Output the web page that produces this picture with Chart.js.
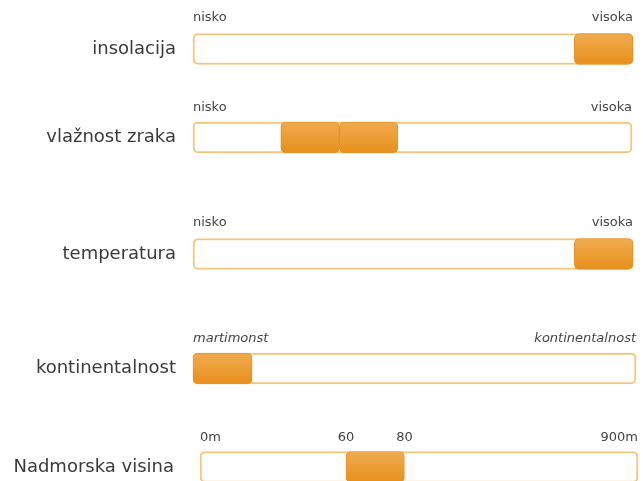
<!DOCTYPE html>
<html>
<head>
<meta charset="utf-8">
<script src="https://cdn.jsdelivr.net/npm/chart.js@4"></script>
<style>
  html, body { margin: 0; padding: 0; background: #ffffff; overflow: hidden; }
  body { width: 643px; height: 481px; position: relative; }
  canvas { position: absolute; left: 0; }
</style>
</head>
<body>
<canvas id="c0" width="643" height="62" style="top:9px"></canvas>
<canvas id="c1" width="643" height="59" style="top:99px"></canvas>
<canvas id="c2" width="643" height="62" style="top:214px"></canvas>
<canvas id="c3" width="643" height="59" style="top:330px"></canvas>
<canvas id="c4" width="643" height="58" style="top:429px"></canvas>
<script>
// ---- data ----
const rowNames = ['insolacija', 'vlažnost zraka', 'temperatura', 'kontinentalnost', 'Nadmorska visina'];
const scaleMin = 0;
const scaleMax = 15;
// highlighted segments per row: [start, end] on the 0..15 track
const segInsolacija = [[13, 15]];
const segVlaznost = [[3, 5], [5, 7]];
const segTemperatura = [[13, 15]];
const segKontinentalnost = [[0, 2]];
const segVisina = [[5, 7]];
const segments = [segInsolacija, segVlaznost, segTemperatura, segKontinentalnost, segVisina];
// tick labels per row (value positions on the track + text)
const tickValues = [[0, 15], [0, 15], [0, 15], [0, 15], [0, 5, 7, 15]];
const tickTexts = [
  ['nisko', 'visoka'],
  ['nisko', 'visoka'],
  ['nisko', 'visoka'],
  ['martimonst', 'kontinentalnost'],
  ['0m', '60', '80', '900m']
];

// ---- layout / style (not data) ----
const trackLeft = [193, 193, 193, 193, 200];
const trackRight = [633, 632, 633, 636, 638];
const labelPad = [17, 17, 17, 17, 26];
const tickItalic = [false, false, false, true, false];
const FONT = "'DejaVu Sans', 'Liberation Sans', sans-serif";

function fillGradient(ctx) {
  const chart = ctx.chart;
  const a = chart.chartArea;
  if (!a) return '#ec9a33';
  const mid = (a.top + a.bottom) / 2;
  const g = chart.ctx.createLinearGradient(0, mid - 16, 0, mid + 16);
  g.addColorStop(0, '#f0ac50');
  g.addColorStop(1, '#e78f1a');
  return g;
}

segments.forEach((segs, i) => {
  const datasets = segs.map(s => ({
    data: [s],
    backgroundColor: fillGradient,
    borderColor: '#e59225',
    borderWidth: 1,
    borderRadius: 5,
    borderSkipped: false,
    barThickness: 31,
    grouped: false,
    clip: false
  }));
  datasets.push({
    data: [[scaleMin, scaleMax]],
    backgroundColor: '#ffffff',
    borderColor: '#f6c57c',
    borderWidth: 2,
    borderRadius: 5,
    borderSkipped: false,
    barThickness: 31,
    grouped: false,
    clip: false
  });
  new Chart(document.getElementById('c' + i), {
    type: 'bar',
    data: { labels: [rowNames[i]], datasets },
    options: {
      indexAxis: 'y',
      responsive: false,
      animation: false,
      devicePixelRatio: 1,
      layout: { autoPadding: false, padding: { left: 0, right: 643 - trackRight[i], top: 0, bottom: 0 } },
      plugins: { legend: { display: false }, tooltip: { enabled: false } },
      scales: {
        x: {
          type: 'linear',
          position: 'top',
          min: scaleMin,
          max: scaleMax,
          grid: { display: false, drawTicks: false },
          border: { display: false },
          afterBuildTicks: (scale) => { scale.ticks = tickValues[i].map(v => ({ value: v })); },
          afterFit: (scale) => { scale.height = 18; scale.paddingLeft = 0; scale.paddingRight = 0; },
          ticks: {
            align: 'inner',
            padding: 2,
            minRotation: 0,
            maxRotation: 0,
            autoSkip: false,
            color: '#444444',
            font: { family: FONT, size: 13, style: tickItalic[i] ? 'italic' : 'normal' },
            callback: (value) => {
              const k = tickValues[i].indexOf(value);
              return k >= 0 ? tickTexts[i][k] : '';
            }
          }
        },
        y: {
          grid: { display: false, drawTicks: false },
          border: { display: false },
          afterFit: (scale) => { scale.width = trackLeft[i]; scale.paddingTop = 0; scale.paddingBottom = 0; },
          ticks: {
            padding: labelPad[i],
            color: '#3a3a3a',
            font: { family: FONT, size: 18 }
          }
        }
      }
    }
  });
});
</script>
</body>
</html>
